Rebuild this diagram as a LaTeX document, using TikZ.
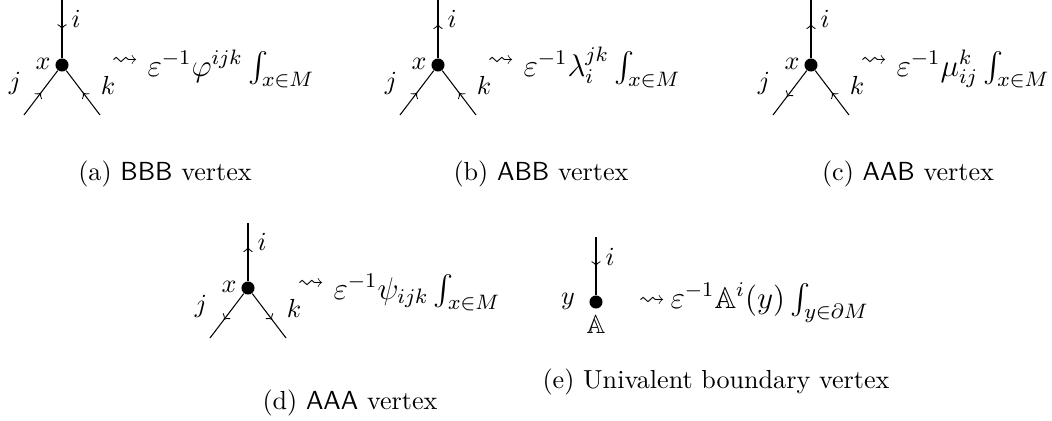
\documentclass[tikz,border=0pt]{standalone}
\usepackage{amssymb}
\usetikzlibrary{decorations.markings}
\tikzset{
  vtx/.style={circle, fill=black, inner sep=0pt, minimum size=5pt},
  arrin/.style={postaction={decorate}, decoration={markings, mark=at position 0.5 with {\arrow{>}}}},
  arrout/.style={postaction={decorate}, decoration={markings, mark=at position 0.5 with {\arrow{<}}}},
  expr/.style={anchor=base west, inner sep=0pt, font=\fontsize{11.5}{14}\selectfont},
}

\begin{document}
\begin{tikzpicture}[x=0.383pt, y=-0.383pt]
    \useasboundingbox (0,0) rectangle (1052,421);

    % (a) BBB
    \begin{scope}[shift={(62,65)}]
        \node[vtx] (av) at (0,0) {};
        \coordinate (at) at (0,-65);
        \coordinate (aj) at (-38,50);
        \coordinate (ak) at (38,50);
        \draw[arrin] (at) -- (av);
        \draw[arrin] (aj) -- (av);
        \draw[arrin] (ak) -- (av);
        \node (ai) at (14,-46) {$i$};
        \node (ax) at (-19,-1) {$x$};
        \node (ajl) at (-47,18) {$j$};
        \node (akl) at (46,20) {$k$};
        \node (asq) at (63,-3) {$\rightsquigarrow$};
        \node[expr] (aexp) at (85,11) {$\varepsilon^{-1}\varphi^{ijk}\int_{x\in M}$};
    \end{scope}
    \node (acap) at (165,174) {(a) \textsf{BBB} vertex};

    % (b) ABB
    \begin{scope}[shift={(438,65)}]
        \node[vtx] (bv) at (0,0) {};
        \coordinate (bt) at (0,-65);
        \coordinate (bj) at (-38,50);
        \coordinate (bk) at (38,50);
        \draw[arrout] (bt) -- (bv);
        \draw[arrin] (bj) -- (bv);
        \draw[arrin] (bk) -- (bv);
        \node (bi) at (14,-46) {$i$};
        \node (bx) at (-19,-1) {$x$};
        \node (bjl) at (-47,18) {$j$};
        \node (bkl) at (46,20) {$k$};
        \node (bsq) at (63,-3) {$\rightsquigarrow$};
        \node[expr] (bexp) at (85,11) {$\varepsilon^{-1}\lambda_i^{jk}\int_{x\in M}$};
    \end{scope}
    \node (bcap) at (541,174) {(b) \textsf{ABB} vertex};

    % (c) AAB
    \begin{scope}[shift={(811,65)}]
        \node[vtx] (cv) at (0,0) {};
        \coordinate (ct) at (0,-65);
        \coordinate (cj) at (-38,50);
        \coordinate (ck) at (38,50);
        \draw[arrout] (ct) -- (cv);
        \draw[arrout] (cj) -- (cv);
        \draw[arrin] (ck) -- (cv);
        \node (ci) at (14,-46) {$i$};
        \node (cx) at (-19,-1) {$x$};
        \node (cjl) at (-47,18) {$j$};
        \node (ckl) at (46,20) {$k$};
        \node (csq) at (63,-3) {$\rightsquigarrow$};
        \node[expr] (cexp) at (85,11) {$\varepsilon^{-1}\mu_{ij}^k\int_{x\in M}$};
    \end{scope}
    \node (ccap) at (908,174) {(c) \textsf{AAB} vertex};

    % (d) AAA
    \begin{scope}[shift={(248,288)}]
        \node[vtx] (dv) at (0,0) {};
        \coordinate (dt) at (0,-65);
        \coordinate (dj) at (-38,50);
        \coordinate (dk) at (38,50);
        \draw[arrout] (dt) -- (dv);
        \draw[arrout] (dj) -- (dv);
        \draw[arrout] (dk) -- (dv);
        \node (di) at (14,-46) {$i$};
        \node (dx) at (-19,-1) {$x$};
        \node (djl) at (-47,18) {$j$};
        \node (dkl) at (46,20) {$k$};
        \node (dsq) at (63,-3) {$\rightsquigarrow$};
        \node[expr] (dexp) at (85,11) {$\varepsilon^{-1}\psi_{ijk}\int_{x\in M}$};
    \end{scope}
    \node (dcap) at (350,403) {(d) \textsf{AAA} vertex};

    % (e) boundary
    \begin{scope}[shift={(596,302)}]
        \node[vtx] (ev) at (0,0) {};
        \coordinate (et) at (0,-65);
        \draw[arrin] (et) -- (ev);
        \node (ei) at (14,-45) {$i$};
        \node (ey) at (-28,-1) {$y$};
        \node (eA) at (0,23) {$\mathbb{A}$};
        \node (esq) at (56,0) {$\rightsquigarrow$};
        \node[expr] (eexp) at (74,6) {$\varepsilon^{-1}\mathbb{A}^i(y)\int_{y\in\partial M}$};
    \end{scope}
    \node (ecap) at (716,382) {(e) Univalent boundary vertex};
\end{tikzpicture}
\end{document}
